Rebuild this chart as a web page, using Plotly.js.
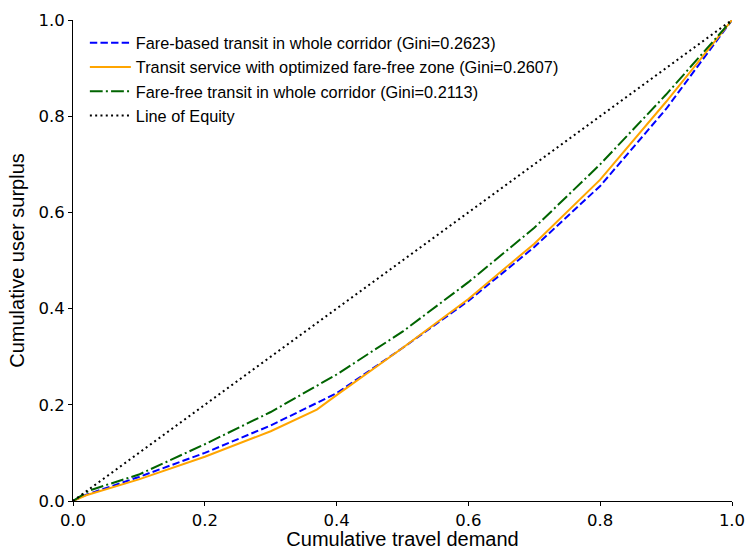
<!DOCTYPE html>
<html>
<head>
<meta charset="utf-8">
<script src="https://cdn.plot.ly/plotly-3.0.1.min.js"></script>
<style>html,body{margin:0;padding:0;background:#fff;}#chart{width:747px;height:550px;}</style>
</head>
<body>
<div id="chart"></div>
<script>
// Cumulative travel demand (x) and cumulative user surplus (y) for each scenario
const fareBasedX = [0, 0.02, 0.1, 0.2, 0.3, 0.4, 0.5, 0.6, 0.7, 0.8, 0.9, 1.0];
const fareBasedY = [0, 0.013, 0.05, 0.1, 0.157, 0.224, 0.318, 0.416, 0.528, 0.655, 0.815, 1.0];

const optimizedX = [0, 0.02, 0.1, 0.2, 0.3, 0.37, 0.4, 0.5, 0.6, 0.7, 0.8, 0.9, 1.0];
const optimizedY = [0, 0.012, 0.045, 0.092, 0.145, 0.19, 0.22, 0.318, 0.42, 0.535, 0.668, 0.83, 1.0];

const fareFreeX = [0, 0.025, 0.1, 0.2, 0.3, 0.4, 0.5, 0.6, 0.7, 0.8, 0.9, 1.0];
const fareFreeY = [0, 0.022, 0.055, 0.118, 0.185, 0.263, 0.352, 0.455, 0.568, 0.7, 0.845, 1.0];

const equityX = [0, 1];
const equityY = [0, 1];

const seriesNames = [
  "Fare-based transit in whole corridor (Gini=0.2623)",
  "Transit service with optimized fare-free zone (Gini=0.2607)",
  "Fare-free transit in whole corridor (Gini=0.2113)",
  "Line of Equity"
];
const tickVals = [0, 0.2, 0.4, 0.6, 0.8, 1.0];
const tickText = ["0.0", "0.2", "0.4", "0.6", "0.8", "1.0"];

const traces = [
  {x: fareBasedX, y: fareBasedY, name: seriesNames[0], legendgroup: "a", mode: "lines",
   line: {color: "#0000ff", width: 2, dash: "7.4px,3.2px"}},
  {x: optimizedX, y: optimizedY, name: seriesNames[1], legendgroup: "b", mode: "lines",
   line: {color: "#ffa500", width: 2}},
  {x: fareFreeX, y: fareFreeY, name: seriesNames[2], legendgroup: "c", mode: "lines",
   line: {color: "#006400", width: 2, dash: "12.8px,3.2px,2px,3.2px"}},
  {x: equityX, y: equityY, name: seriesNames[3], legendgroup: "d", mode: "lines",
   line: {color: "#000000", width: 2, dash: "2px,3.3px"}}
];

const axisCommon = {
  range: [0, 1],
  tickvals: tickVals,
  ticktext: tickText,
  showgrid: false,
  zeroline: false,
  showline: true,
  linecolor: "#000",
  linewidth: 1,
  mirror: false,
  ticks: "outside",
  ticklen: 4,
  tickwidth: 1,
  tickcolor: "#000",
  tickfont: {family: "DejaVu Sans", size: 16.5, color: "#000"}
};

const layout = {
  width: 747,
  height: 550,
  margin: {l: 73, r: 15, t: 20, b: 49},
  paper_bgcolor: "#fff",
  plot_bgcolor: "#fff",
  showlegend: true,
  legend: {
    x: 0.018, y: 0.988, xanchor: "left", yanchor: "top",
    bgcolor: "rgba(255,255,255,0)",
    borderwidth: 0,
    font: {family: "Liberation Sans", size: 16.3, color: "#000"},
    tracegroupgap: 0,
    itemwidth: 41
  },
  xaxis: Object.assign({}, axisCommon, {
    title: {text: "Cumulative travel demand", font: {family: "Liberation Sans", size: 20, color: "#000"}, standoff: 7}
  }),
  yaxis: Object.assign({}, axisCommon, {
    title: {text: "Cumulative user surplus", font: {family: "Liberation Sans", size: 20, color: "#000"}, standoff: 8}
  })
};

Plotly.newPlot("chart", traces, layout, {displayModeBar: false, staticPlot: true});
</script>
</body>
</html>
